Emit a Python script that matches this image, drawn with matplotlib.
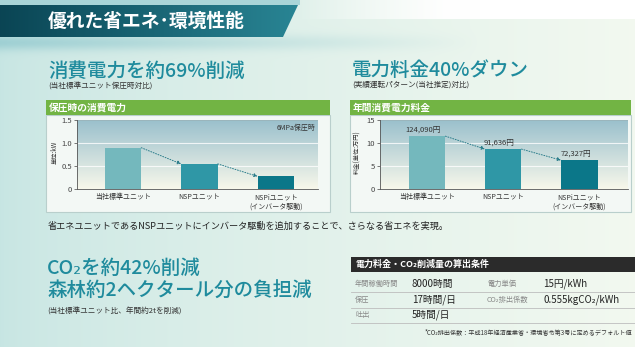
import matplotlib
matplotlib.use('Agg')
import matplotlib.pyplot as plt
from matplotlib.patches import Polygon, Rectangle
import numpy as np

plt.rcParams['font.family'] = ['Noto Sans CJK JP', 'DejaVu Sans']

# ---- data ----
units = ['当社標準ユニット', 'NSPユニット', 'NSPiユニット\n(インバータ駆動)']
power_kw = [0.9, 0.55, 0.28]                # 保圧時の消費電力 (kW)
cost_man_yen = [11.5, 8.7, 6.3]             # 年間消費電力料金 (万円, bar heights as drawn)
cost_labels = ['124,090円', '91,636円', '72,327円']
power_ticks = [0, 0.5, 1.0, 1.5]
power_tick_labels = ['0', '0.5', '1.0', '1.5']
cost_ticks = [0, 5, 10, 15]
cost_tick_labels = ['0', '5', '10', '15']

cond_names_l = ['年間稼働時間', '保圧', '吐出']
cond_values_l = ['8000時間', '17時間/日', '5時間/日']
cond_names_r = ['電力単価', 'CO₂排出係数', '']
cond_values_r = ['15円/kWh', '0.555kgCO₂/kWh', '']

W, H = 635, 347
TEAL = '#1f8b9d'
GREEN = '#72b444'
bar_colors = ['#74b8bd', '#2f97a6', '#0b7789']

fig = plt.figure(figsize=(W / 100, H / 100), dpi=100)

# background layer in pixel coordinates
bg = fig.add_axes([0, 0, 1, 1])
xx = np.linspace(0, 1, W)[None, :]
yy = np.arange(H)[:, None] * np.ones((1, W))
t = np.clip(xx ** 0.7, 0, 1) * np.ones((H, 1))
left_c = np.array([0.78, 0.90, 0.89])
right_c = np.array([0.95, 0.975, 0.94])
img = left_c * (1 - t)[..., None] + right_c * t[..., None]
# white strip top right
top_mask = np.clip((xx * W - 300) / 150, 0, 1) * (yy < 19)
img = img * (1 - top_mask[..., None]) + np.array([1.0, 1.0, 1.0]) * top_mask[..., None]
# pale teal swoosh under the banner
sw = np.exp(-((yy - 42) / 8.0) ** 2) * np.clip(1 - xx * W / 480, 0, 1)
img = img * (1 - 0.6 * sw[..., None]) + np.array([0.52, 0.76, 0.79]) * 0.6 * sw[..., None]
bg.imshow(img, extent=(0, W, H, 0), aspect='auto', zorder=0)

# title banner
banner = Polygon([(0, 5), (298, 5), (283, 37), (0, 37)], closed=True, fc='none', ec='none')
bg.add_patch(banner)
bgrad = np.linspace(0, 1, 200)[None, :, None]
bimg = np.array([0.04, 0.27, 0.33]) * (1 - bgrad) + np.array([0.16, 0.52, 0.58]) * bgrad
bim = bg.imshow(bimg, extent=(0, 298, 37, 5), aspect='auto', zorder=1)
bim.set_clip_path(banner)
bg.add_patch(Rectangle((0, 0), 300, 5, fc='#a9d5d8', ec='none', zorder=1))
bg.text(48, 21, '優れた省エネ･環境性能', color='white', fontsize=13.5, fontweight='bold', va='center', zorder=2)

# headings
bg.text(48, 71, '消費電力を約69%削減', color=TEAL, fontsize=14, fontweight='medium', va='center')
bg.text(48, 87, '(当社標準ユニット保圧時対比)', color='#333333', fontsize=5.5, va='center')
bg.text(352, 70, '電力料金40%ダウン', color=TEAL, fontsize=14, fontweight='medium', va='center')
bg.text(352, 85, '(実績運転パターン(当社推定)対比)', color='#333333', fontsize=5.5, va='center')

# chart panels
for px, pw, head in [(46, 284, '保圧時の消費電力'), (350, 281, '年間消費電力料金')]:
    bg.add_patch(Rectangle((px, 115), pw, 97, fc='#f3f8f5', ec='#b9cfcc', lw=0.8, zorder=1))
    bg.add_patch(Rectangle((px, 100), pw, 15, fc=GREEN, ec='none', zorder=1))
    bg.text(px + 3, 107.5, head, color='white', fontsize=7, fontweight='bold', va='center', zorder=2)

bg.text(55, 152, '単位:kW', fontsize=4.5, rotation=90, ha='center', va='center', color='#333333')
bg.text(357, 152, '料金(単位:万円)', fontsize=4.5, rotation=90, ha='center', va='center', color='#333333')

bg.text(48, 226, '省エネユニットであるNSPユニットにインバータ駆動を追加することで、さらなる省エネを実現。',
        fontsize=6.6, va='center', color='#222222')

bg.text(47, 268, 'CO₂を約42%削減', color=TEAL, fontsize=14, fontweight='medium', va='center')
bg.text(47, 291, '森林約2ヘクタール分の負担減', color=TEAL, fontsize=14, fontweight='medium', va='center')
bg.text(47, 312, '(当社標準ユニット比、年間約2tを削減)', color='#333333', fontsize=5.5, va='center')

# conditions table
bg.add_patch(Rectangle((351, 257), 284, 15, fc='#2b2b2b', ec='none', zorder=1))
bg.text(355, 264.5, '電力料金・CO₂削減量の算出条件', color='white', fontsize=6.5, fontweight='bold', va='center', zorder=2)
row_y = [284, 300, 315]
for i, y in enumerate(row_y):
    bg.plot([351, 635], [y + 7.5, y + 7.5], color='#bdbdbd', lw=0.6, zorder=2)
    bg.text(355, y, cond_names_l[i], color='#888888', fontsize=5.2, va='center')
    bg.text(412, y, cond_values_l[i], color='#222222', fontsize=7, va='center')
    bg.text(487, y, cond_names_r[i], color='#888888', fontsize=5.2, va='center')
    bg.text(543, y, cond_values_r[i], color='#222222', fontsize=7, va='center')
bg.text(632, 332, '*CO₂排出係数：平成18年経済産業省・環境省令第3号に定めるデフォルト値',
        fontsize=4.4, ha='right', va='center', color='#333333')

bg.set_xlim(0, W)
bg.set_ylim(H, 0)
bg.axis('off')


def bar_chart(x0, x1, y0, y1, values, ticks, tick_labels, xlim, ymax):
    ax = fig.add_axes([x0 / W, 1 - y1 / H, (x1 - x0) / W, (y1 - y0) / H])
    g = np.linspace(0, 1, 100)[:, None, None]
    gimg = np.array([0.60, 0.75, 0.80]) * (1 - g) + np.array([0.97, 0.97, 0.92]) * g
    ax.imshow(gimg, extent=(xlim[0], xlim[1], 0, ymax), aspect='auto', zorder=0)
    for v in ticks[1:-1]:
        ax.axhline(v, color='white', lw=0.8, alpha=0.8, zorder=1)
    ax.axhline(ymax, color='#9ab4ba', lw=0.6, zorder=1)
    w = 0.48
    ax.bar(range(3), values, width=w, color=bar_colors, zorder=2)
    for i in range(2):
        ax.annotate('', xy=(i + 1 - w / 2, values[i + 1]), xytext=(i + w / 2, values[i]),
                    arrowprops=dict(arrowstyle='-|>', color='#2a7c8a', lw=0.7, ls=':',
                                    mutation_scale=5, shrinkA=0, shrinkB=0), zorder=3)
    ax.set_xlim(*xlim)
    ax.set_ylim(0, ymax)
    ax.set_yticks(ticks, tick_labels)
    ax.set_xticks(range(3), units)
    ax.tick_params(axis='y', labelsize=5.5, length=2, width=0.5, pad=1.5, colors='#444444')
    ax.tick_params(axis='x', labelsize=5, length=0, pad=3, colors='#333333')
    for s in ['top', 'right']:
        ax.spines[s].set_visible(False)
    for s in ['left', 'bottom']:
        ax.spines[s].set_color('#555555')
        ax.spines[s].set_linewidth(0.6)
    return ax


ax1 = bar_chart(77, 318, 120, 189.3, power_kw, power_ticks, power_tick_labels, (-0.6, 2.55), 1.5)
ax1.text(2.52, 1.42, '6MPa保圧時', fontsize=5, ha='right', va='top', color='#333333')

ax2 = bar_chart(380, 628, 120, 189.3, cost_man_yen, cost_ticks, cost_tick_labels, (-0.62, 2.64), 15)
for i, v in enumerate(cost_man_yen):
    ax2.text(i - 0.05, v + 0.3, cost_labels[i], fontsize=5.5, ha='center', va='bottom', color='#333333', zorder=4)

fig.savefig('out.png', dpi=100)
